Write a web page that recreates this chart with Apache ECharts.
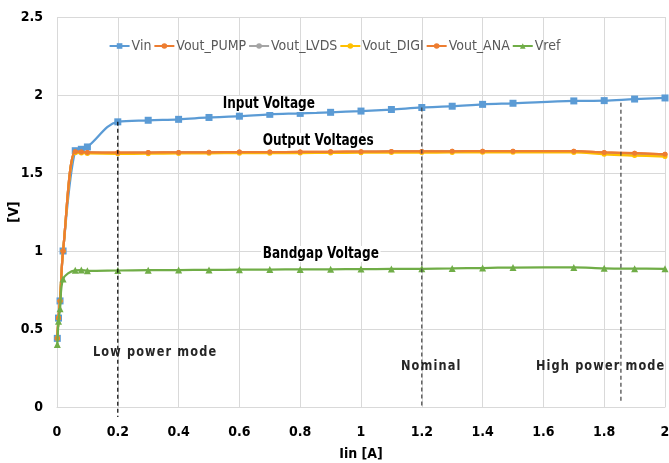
<!DOCTYPE html>
<html><head><meta charset="utf-8">
<script src="https://cdn.jsdelivr.net/npm/echarts/dist/echarts.min.js"></script>
<style>html,body{margin:0;padding:0;background:#fff}#c{width:669px;height:463px}</style>
</head><body><div id="c"></div>
<script>
var xs = [0.001, 0.005, 0.01, 0.02, 0.06, 0.08, 0.1, 0.2, 0.3, 0.4, 0.5, 0.6, 0.7, 0.8, 0.9, 1.0, 1.1, 1.2, 1.3, 1.4, 1.5, 1.7, 1.8, 1.9, 2.0];
var vin      = [0.44, 0.57, 0.68, 1.00, 1.643, 1.652, 1.667, 1.828, 1.838, 1.844, 1.856, 1.864, 1.876, 1.882, 1.889, 1.897, 1.907, 1.920, 1.928, 1.940, 1.947, 1.962, 1.964, 1.974, 1.981];
var voutPump = [0.44, 0.57, 0.68, 1.00, 1.637, 1.635, 1.632, 1.630, 1.631, 1.632, 1.633, 1.634, 1.634, 1.635, 1.636, 1.637, 1.638, 1.638, 1.639, 1.640, 1.640, 1.640, 1.632, 1.627, 1.620];
var voutLvds = [0.44, 0.57, 0.68, 1.00, 1.635, 1.633, 1.630, 1.628, 1.629, 1.630, 1.631, 1.632, 1.632, 1.633, 1.634, 1.635, 1.636, 1.636, 1.637, 1.638, 1.638, 1.637, 1.628, 1.622, 1.615];
var voutDigi = [0.44, 0.57, 0.68, 1.00, 1.630, 1.628, 1.625, 1.623, 1.624, 1.625, 1.626, 1.627, 1.627, 1.628, 1.629, 1.630, 1.631, 1.631, 1.632, 1.633, 1.633, 1.632, 1.620, 1.612, 1.605];
var voutAna  = [0.44, 0.57, 0.68, 1.00, 1.637, 1.635, 1.632, 1.630, 1.631, 1.632, 1.633, 1.634, 1.634, 1.635, 1.636, 1.637, 1.638, 1.638, 1.639, 1.640, 1.640, 1.640, 1.632, 1.627, 1.620];
var vref     = [0.40, 0.55, 0.63, 0.82, 0.876, 0.878, 0.873, 0.875, 0.877, 0.878, 0.879, 0.880, 0.881, 0.882, 0.883, 0.884, 0.885, 0.886, 0.888, 0.891, 0.894, 0.895, 0.889, 0.887, 0.886];
var modeLines = [
  {x: 0.2,   top: 1.828, bottom: -0.064, color: '#000000'},
  {x: 1.2,   top: 1.920, bottom: -0.008, color: '#404040'},
  {x: 1.855, top: 1.950, bottom: 0.024,  color: '#404040'}
];
var FONT = "'Liberation Sans Narrow','DejaVu Sans Condensed','Liberation Sans',sans-serif";

function pairs(ys){ return xs.map(function(x,i){ return [x, ys[i]]; }); }
function spaced(s){ return s.split('').join('\u200A'); }

var names = ['Vin','Vout_PUMP','Vout_LVDS','Vout_DIGI','Vout_ANA','Vref'];
var cols  = ['#5B9BD5','#ED7D31','#A5A5A5','#FFC000','#ED7D31','#70AD47'];
var datas = [vin, voutPump, voutLvds, voutDigi, voutAna, vref];
var syms  = ['rect','circle','circle','circle','circle','triangle'];
var sizes = [7,5,4,5,5,7];

var series = names.map(function(n,i){
  return {
    name: n, type: 'line', data: pairs(datas[i]), smooth: 0.35,
    symbol: syms[i], symbolSize: sizes[i], showSymbol: true,
    lineStyle: {color: cols[i], width: 2.25},
    itemStyle: {color: cols[i]},
    emphasis: {disabled: true}, z: 3 + i
  };
});
modeLines.forEach(function(m){
  series.push({
    type: 'line', data: [[m.x, m.top],[m.x, m.bottom]], symbol: 'none', clip: false,
    lineStyle: {color: m.color, width: 1.2, type: [4,3]}, silent: true, z: 10
  });
});

function label(txt, x, y, size, bg, color, sx){
  return {type:'text', x: x, y: y, scaleX: sx || 0.84, z: 20,
    style:{text: txt, fill: color || '#000', font: 'bold ' + size + 'px ' + FONT,
      backgroundColor: bg ? '#fff' : null, padding: bg ? [0,2] : 0}};
}

var chart = echarts.init(document.getElementById('c'));
chart.setOption({
  animation: false,
  grid: {left: 57, right: 4, top: 17, bottom: 56, containLabel: false, outerBoundsMode: 'none'},
  legend: {
    data: names, top: 34, left: 'center', itemGap: 2, itemWidth: 20, itemHeight: 7,
    textStyle: {color: '#595959', fontSize: 14, fontFamily: FONT, padding: [0,0,0,-3]}
  },
  xAxis: {
    type: 'value', min: 0, max: 2, interval: 0.2,
    name: 'Iin [A]', nameLocation: 'middle', nameGap: 40, nameMoveOverlap: false,
    nameTextStyle: {color: '#000', fontSize: 14, fontWeight: 'bold', fontFamily: FONT},
    axisLine: {show: true, lineStyle: {color: '#D9D9D9', width: 1}},
    axisTick: {show: false},
    axisLabel: {color: '#000', fontSize: 14, fontWeight: 'bold', fontFamily: FONT, margin: 18},
    splitLine: {show: true, lineStyle: {color: '#D9D9D9', width: 1}}
  },
  yAxis: {
    type: 'value', min: 0, max: 2.5, interval: 0.5,
    name: '[V]', nameLocation: 'middle', nameGap: 36, nameRotate: 90, nameMoveOverlap: false,
    nameTextStyle: {color: '#000', fontSize: 14, fontWeight: 'bold', fontFamily: FONT},
    axisLine: {show: false}, axisTick: {show: false},
    axisLabel: {color: '#000', fontSize: 14, fontWeight: 'bold', fontFamily: FONT, margin: 14},
    splitLine: {show: true, lineStyle: {color: '#D9D9D9', width: 1}}
  },
  graphic: [
    label('Input Voltage', 221, 96, 16, true),
    label('Output Voltages', 261, 133, 16, true),
    label('Bandgap Voltage', 261, 246, 16, true),
    label(spaced('Low power mode'), 93, 345, 14, false, '#262626', 0.9),
    label(spaced('Nominal'), 401, 359, 14, false, '#262626', 0.9),
    label(spaced('High power mode'), 536, 359, 14, false, '#262626', 0.9)
  ],
  series: series
});
</script></body></html>
